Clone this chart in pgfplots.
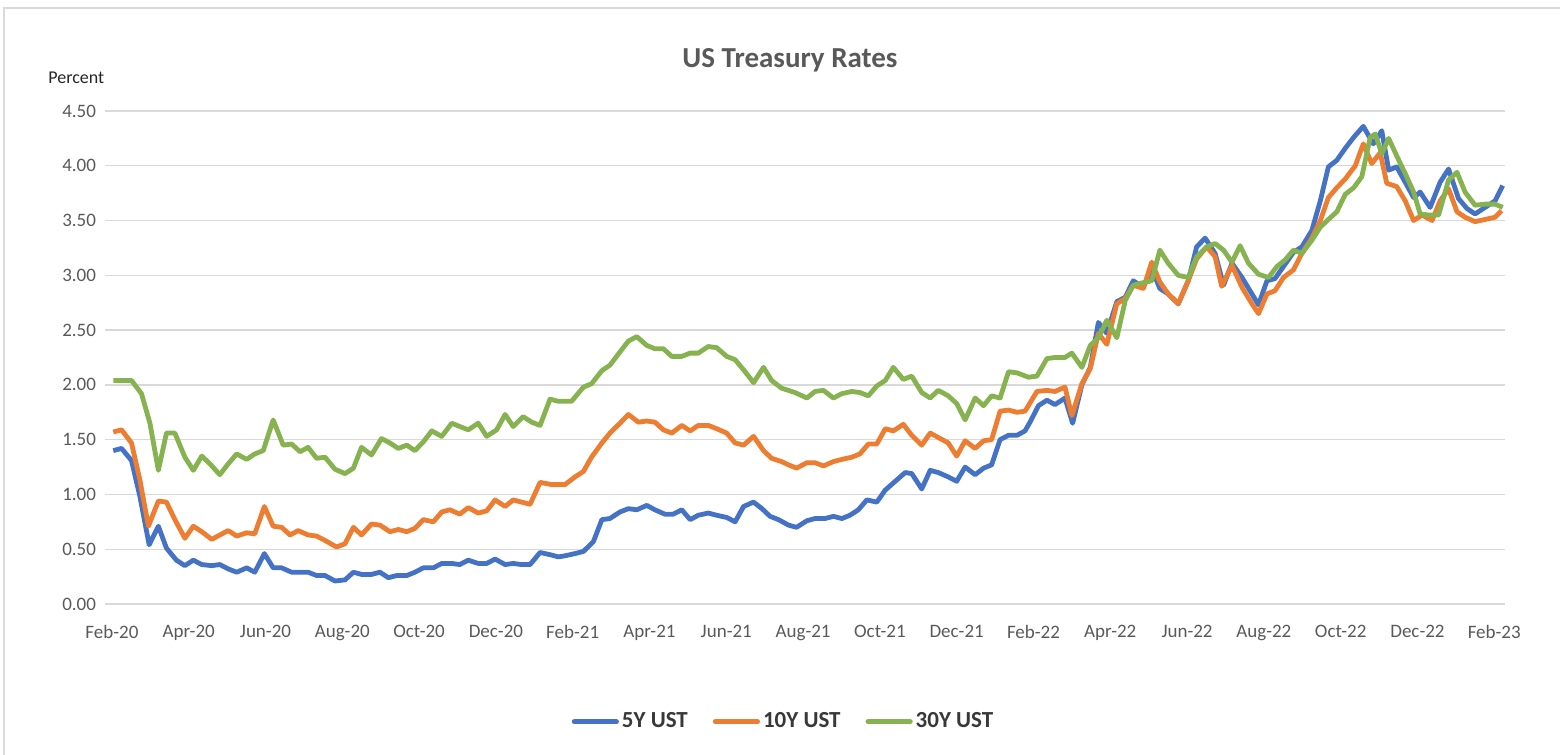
\documentclass[border=0pt]{standalone}
\usepackage{pgfplots}
\pgfplotsset{compat=1.18}
\usepackage{fontspec}
\setmainfont{Carlito}
\definecolor{c5}{HTML}{4472C4}
\definecolor{c10}{HTML}{ED7D31}
\definecolor{c30}{HTML}{86B250}
\definecolor{txt}{HTML}{595959}
\definecolor{gridc}{HTML}{D9D9D9}
\begin{document}
\begin{tikzpicture}
\useasboundingbox (0,0) rectangle (780pt,377.5pt);
\draw[gridc, line width=0.8pt] (2pt,-2pt) -- (2pt,373.5pt) -- (790pt,373.5pt);
\node[anchor=center, text=txt, font=\bfseries\fontsize{14.5}{16}\selectfont] at (395pt,347.5pt) {US Treasury Rates};
\node[anchor=west, text=black!85, font=\fontsize{9}{10}\selectfont, inner sep=0pt] at (24pt,338.5pt) {Percent};
\begin{axis}[
  at={(52.5pt,75.5pt)}, anchor=south west,
  scale only axis, width=700pt, height=246.5pt,
  xmin=-0.18, xmax=36.28, ymin=0, ymax=4.5,
  ytick={0,0.5,...,4.5},
  xtick={0,2,...,36},
  xticklabels={Feb-20,Apr-20,Jun-20,Aug-20,Oct-20,Dec-20,Feb-21,Apr-21,Jun-21,Aug-21,Oct-21,Dec-21,Feb-22,Apr-22,Jun-22,Aug-22,Oct-22,Dec-22,Feb-23},
  /pgf/number format/fixed, /pgf/number format/fixed zerofill,
  /pgf/number format/precision=2, /pgf/number format/assume math mode=true,
  ticklabel style={text=txt, font=\fontsize{9.5}{11}\selectfont},
  xticklabel style={yshift=-7pt},
  yticklabel style={xshift=-1pt},
  axis line style={draw=none},
  major tick style={draw=none},
  ymajorgrids, major grid style={gridc, line width=0.7pt},
  clip=false,
  legend style={at={(0.485,-0.239)}, anchor=center, draw=none, fill=none,
    legend columns=3, font=\bfseries\fontsize{11.5}{13}\selectfont, text=black!78,
    nodes={inner xsep=1.5pt},
    /tikz/every even column/.append style={column sep=11pt}},
  legend image code/.code={\draw[#1, line width=2.6pt, line cap=round] (0pt,0pt) -- (21pt,0pt);},
  every axis plot/.append style={line width=2.4pt, line join=round, no markers},
]
\addplot[c5] coordinates {
(0.035,1.40)(0.25,1.42)(0.51,1.31)(0.73,0.98)(0.97,0.54)(1.21,0.71)(1.42,0.51)(1.68,0.40)(1.90,0.35)(2.12,0.40)
(2.34,0.36)(2.60,0.35)(2.81,0.36)(3.03,0.32)(3.25,0.29)(3.51,0.33)(3.72,0.29)(3.97,0.46)(4.20,0.33)(4.42,0.33)
(4.68,0.29)(4.90,0.29)(5.11,0.29)(5.33,0.26)(5.55,0.26)(5.81,0.21)(6.07,0.22)(6.29,0.29)(6.50,0.27)(6.76,0.27)
(6.98,0.29)(7.20,0.24)(7.42,0.26)(7.68,0.26)(7.89,0.29)(8.11,0.33)(8.37,0.33)(8.59,0.37)(8.85,0.37)(9.06,0.36)
(9.28,0.40)(9.54,0.37)(9.76,0.37)(9.98,0.41)(10.24,0.36)(10.45,0.37)(10.67,0.36)(10.89,0.36)(11.15,0.47)(11.41,0.45)
(11.63,0.43)(11.80,0.44)(12.06,0.46)(12.28,0.48)(12.54,0.57)(12.76,0.77)(12.97,0.78)(13.23,0.84)(13.45,0.87)(13.67,0.86)
(13.93,0.90)(14.14,0.86)(14.40,0.82)(14.62,0.82)(14.84,0.86)(15.06,0.77)(15.27,0.81)(15.53,0.83)(15.75,0.81)(16.01,0.79)
(16.23,0.75)(16.45,0.89)(16.71,0.93)(16.93,0.87)(17.14,0.80)(17.36,0.77)(17.62,0.72)(17.83,0.70)(18.10,0.76)(18.31,0.78)
(18.57,0.78)(18.79,0.80)(19.01,0.78)(19.22,0.81)(19.44,0.86)(19.66,0.95)(19.92,0.93)(20.14,1.04)(20.40,1.12)(20.66,1.20)
(20.83,1.19)(21.09,1.05)(21.31,1.22)(21.52,1.20)(21.78,1.16)(22.00,1.12)(22.22,1.25)(22.48,1.18)(22.70,1.24)(22.91,1.27)
(23.13,1.50)(23.35,1.54)(23.57,1.54)(23.78,1.58)(23.91,1.66)(24.13,1.81)(24.35,1.86)(24.56,1.82)(24.82,1.88)(25.02,1.65)
(25.26,2.00)(25.48,2.16)(25.69,2.57)(25.91,2.47)(26.17,2.76)(26.39,2.80)(26.60,2.95)(26.86,2.89)(27.08,3.06)(27.29,2.88)
(27.51,2.83)(27.77,2.74)(28.03,2.95)(28.25,3.26)(28.47,3.34)(28.73,3.20)(28.95,2.91)(29.17,3.11)(29.43,2.98)(29.69,2.83)
(29.86,2.73)(30.08,2.95)(30.29,2.97)(30.51,3.08)(30.77,3.21)(30.99,3.26)(31.25,3.41)(31.47,3.68)(31.68,3.99)(31.90,4.05)
(32.12,4.16)(32.34,4.26)(32.59,4.36)(32.85,4.20)(33.07,4.32)(33.25,3.96)(33.46,3.99)(33.68,3.85)(33.90,3.71)(34.07,3.76)
(34.33,3.62)(34.59,3.85)(34.81,3.97)(35.07,3.70)(35.29,3.61)(35.50,3.56)(35.76,3.62)(36.02,3.68)(36.22,3.82)
};
\addlegendentry{5Y UST}
\addplot[c10] coordinates {
(0.035,1.57)(0.25,1.59)(0.51,1.47)(0.73,1.13)(0.95,0.71)(1.21,0.94)(1.42,0.93)(1.64,0.77)(1.90,0.60)(2.12,0.71)
(2.34,0.66)(2.60,0.59)(2.81,0.63)(3.03,0.67)(3.25,0.62)(3.51,0.65)(3.72,0.64)(3.97,0.89)(4.20,0.71)(4.42,0.70)
(4.64,0.63)(4.85,0.67)(5.11,0.63)(5.33,0.62)(5.55,0.58)(5.85,0.52)(6.07,0.55)(6.29,0.70)(6.50,0.63)(6.76,0.73)
(6.98,0.72)(7.24,0.66)(7.46,0.68)(7.68,0.66)(7.89,0.69)(8.11,0.77)(8.37,0.75)(8.59,0.84)(8.80,0.86)(9.06,0.82)
(9.28,0.88)(9.54,0.83)(9.76,0.85)(9.98,0.95)(10.24,0.89)(10.45,0.95)(10.67,0.93)(10.89,0.91)(11.15,1.11)(11.45,1.09)
(11.80,1.09)(12.06,1.16)(12.28,1.21)(12.49,1.34)(12.76,1.47)(12.97,1.56)(13.23,1.65)(13.45,1.73)(13.71,1.66)(13.93,1.67)
(14.14,1.66)(14.36,1.59)(14.58,1.56)(14.84,1.63)(15.06,1.58)(15.27,1.63)(15.53,1.63)(15.75,1.60)(16.01,1.56)(16.23,1.47)
(16.45,1.45)(16.71,1.53)(16.97,1.40)(17.18,1.33)(17.44,1.30)(17.62,1.27)(17.83,1.24)(18.10,1.29)(18.31,1.29)(18.53,1.26)
(18.79,1.30)(19.01,1.32)(19.27,1.34)(19.48,1.37)(19.70,1.46)(19.92,1.46)(20.14,1.60)(20.35,1.58)(20.61,1.64)(20.83,1.54)
(21.09,1.45)(21.31,1.56)(21.52,1.52)(21.78,1.47)(22.00,1.35)(22.22,1.49)(22.48,1.42)(22.70,1.49)(22.91,1.50)(23.13,1.76)
(23.35,1.77)(23.57,1.75)(23.78,1.76)(24.09,1.94)(24.35,1.95)(24.56,1.94)(24.82,1.98)(25.00,1.72)(25.26,2.01)(25.48,2.15)
(25.69,2.47)(25.91,2.37)(26.17,2.74)(26.39,2.79)(26.60,2.91)(26.86,2.88)(27.08,3.12)(27.29,2.94)(27.51,2.83)(27.77,2.74)
(28.03,2.95)(28.25,3.15)(28.51,3.26)(28.73,3.17)(28.90,2.90)(29.17,3.09)(29.43,2.89)(29.69,2.74)(29.86,2.65)(30.08,2.83)
(30.29,2.86)(30.51,2.98)(30.77,3.05)(30.99,3.20)(31.25,3.34)(31.47,3.50)(31.68,3.71)(31.90,3.80)(32.12,3.88)(32.38,4.00)
(32.59,4.20)(32.81,4.02)(33.03,4.12)(33.20,3.84)(33.46,3.81)(33.68,3.68)(33.90,3.50)(34.12,3.55)(34.38,3.50)(34.59,3.68)
(34.81,3.79)(35.03,3.58)(35.24,3.53)(35.50,3.49)(35.76,3.51)(36.02,3.53)(36.19,3.59)
};
\addlegendentry{10Y UST}
\addplot[c30] coordinates {
(0.035,2.04)(0.51,2.04)(0.77,1.92)(0.99,1.65)(1.21,1.22)(1.42,1.56)(1.64,1.56)(1.90,1.34)(2.12,1.22)(2.34,1.35)
(2.55,1.28)(2.81,1.18)(3.03,1.28)(3.25,1.37)(3.51,1.32)(3.72,1.37)(3.94,1.40)(4.20,1.68)(4.46,1.45)(4.68,1.46)
(4.90,1.39)(5.11,1.43)(5.33,1.33)(5.55,1.34)(5.81,1.23)(6.07,1.19)(6.29,1.24)(6.50,1.43)(6.76,1.36)(7.02,1.51)
(7.24,1.47)(7.46,1.42)(7.68,1.45)(7.89,1.40)(8.11,1.48)(8.33,1.58)(8.59,1.53)(8.85,1.65)(9.06,1.62)(9.28,1.59)
(9.54,1.65)(9.76,1.53)(10.02,1.59)(10.24,1.73)(10.45,1.62)(10.71,1.71)(10.93,1.66)(11.15,1.63)(11.41,1.87)(11.63,1.85)
(11.97,1.85)(12.28,1.98)(12.49,2.01)(12.76,2.13)(12.97,2.18)(13.23,2.30)(13.45,2.40)(13.67,2.44)(13.93,2.36)(14.14,2.33)
(14.36,2.33)(14.58,2.26)(14.84,2.26)(15.06,2.29)(15.27,2.29)(15.53,2.35)(15.75,2.34)(16.01,2.26)(16.23,2.23)(16.49,2.12)
(16.71,2.02)(16.97,2.16)(17.18,2.04)(17.44,1.97)(17.79,1.93)(18.10,1.88)(18.31,1.94)(18.53,1.95)(18.79,1.88)(19.01,1.92)
(19.27,1.94)(19.48,1.93)(19.70,1.90)(19.92,1.99)(20.14,2.04)(20.35,2.16)(20.61,2.05)(20.83,2.08)(21.09,1.93)(21.31,1.88)
(21.52,1.95)(21.78,1.90)(22.00,1.83)(22.22,1.68)(22.48,1.88)(22.70,1.81)(22.91,1.90)(23.13,1.88)(23.35,2.12)(23.57,2.11)
(23.87,2.07)(24.09,2.08)(24.35,2.24)(24.56,2.25)(24.82,2.25)(25.00,2.29)(25.26,2.16)(25.48,2.36)(25.69,2.43)(25.91,2.59)
(26.17,2.43)(26.39,2.77)(26.60,2.91)(26.82,2.93)(27.08,2.95)(27.29,3.23)(27.51,3.11)(27.77,3.00)(28.03,2.98)(28.25,3.17)
(28.51,3.26)(28.73,3.29)(28.95,3.23)(29.17,3.12)(29.38,3.27)(29.60,3.11)(29.86,3.01)(30.12,2.98)(30.34,3.08)(30.55,3.14)
(30.77,3.23)(30.99,3.20)(31.25,3.32)(31.47,3.44)(31.68,3.51)(31.90,3.58)(32.12,3.74)(32.34,3.80)(32.55,3.90)(32.77,4.26)
(32.90,4.29)(33.07,4.11)(33.25,4.25)(33.46,4.09)(33.68,3.93)(33.90,3.76)(34.07,3.56)(34.29,3.55)(34.55,3.55)(34.81,3.87)
(35.03,3.94)(35.24,3.76)(35.50,3.64)(35.76,3.65)(36.02,3.65)(36.22,3.62)
};
\addlegendentry{30Y UST}
\end{axis}
\end{tikzpicture}
\end{document}
